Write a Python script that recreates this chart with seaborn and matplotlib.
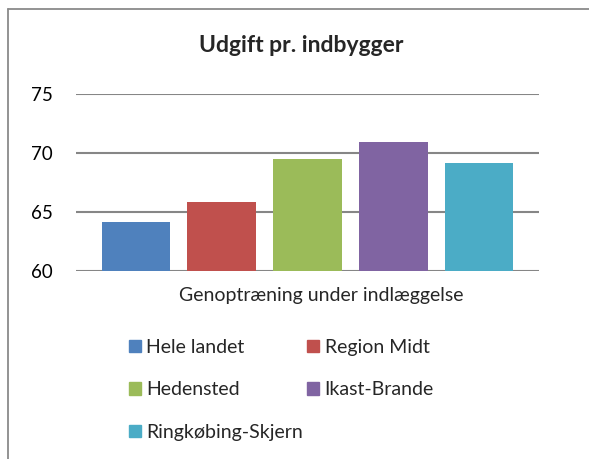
import pandas as pd
import seaborn as sns
import matplotlib.pyplot as plt
from matplotlib.lines import Line2D

kommuner = ["Hele landet", "Region Midt", "Hedensted", "Ikast-Brande", "Ringkøbing-Skjern"]
udgift = [64.1, 65.8, 69.5, 70.9, 69.1]
farver = ["#4F81BD", "#C0504D", "#9BBB59", "#8064A2", "#4BACC6"]
yticks = [60, 65, 70, 75]

df = pd.DataFrame({"kommune": kommuner, "udgift": udgift})

sns.set_style("white")
plt.rcParams["font.family"] = ["Lato", "DejaVu Sans"]

fig = plt.figure(figsize=(5.89, 4.59), dpi=100)
ax = fig.add_axes([76 / 589, 1 - 270.7 / 459, (539 - 76) / 589, 177 / 459])

sns.barplot(data=df, x="kommune", y="udgift", hue="kommune", palette=farver,
            width=0.8, saturation=1, legend=False, linewidth=0, ax=ax)

ax.set_ylim(60, 75)
ax.set_xlim(-0.7, 4.7)
ax.set_yticks(yticks)
ax.set_yticklabels([str(t) for t in yticks], fontsize=13.5)
ax.set_xticks([])
ax.set_xlabel("")
ax.set_ylabel("")
ax.tick_params(axis="y", length=0, pad=17, colors="black")
for s in ax.spines.values():
    s.set_visible(False)
ax.yaxis.grid(True, color="#868686", linewidth=1.5)
ax.set_axisbelow(True)

fig.text(301 / 589, 1 - 46 / 459, "Udgift pr. indbygger", ha="center", va="center",
         fontsize=16.5, fontweight="bold")
fig.text(321 / 589, 1 - 296 / 459, "Genoptræning under indlæggelse", ha="center",
         va="center", fontsize=14)

# excel fills the legend row by row, matplotlib column by column
order = [0, 2, 4, 1, 3]
handles = [plt.Rectangle((0, 0), 1, 1, color=farver[i]) for i in order]
labels = [kommuner[i] for i in order]
fig.legend(handles, labels, loc="upper left", bbox_to_anchor=(129 / 589, 1 - 339 / 459),
           ncol=2, frameon=False, fontsize=14, handlelength=0.6, handleheight=0.6,
           handletextpad=0.3, labelspacing=1.3, columnspacing=0.2, borderpad=0,
           borderaxespad=0)

# border of the chart area
fig.add_artist(Line2D([8 / 589, 8 / 589], [0, 1 - 9 / 459], color="#8a8a8a", linewidth=1.3))
fig.add_artist(Line2D([8 / 589, 1], [1 - 9 / 459, 1 - 9 / 459], color="#8a8a8a", linewidth=1.3))

fig.savefig("out.png", dpi=100)
